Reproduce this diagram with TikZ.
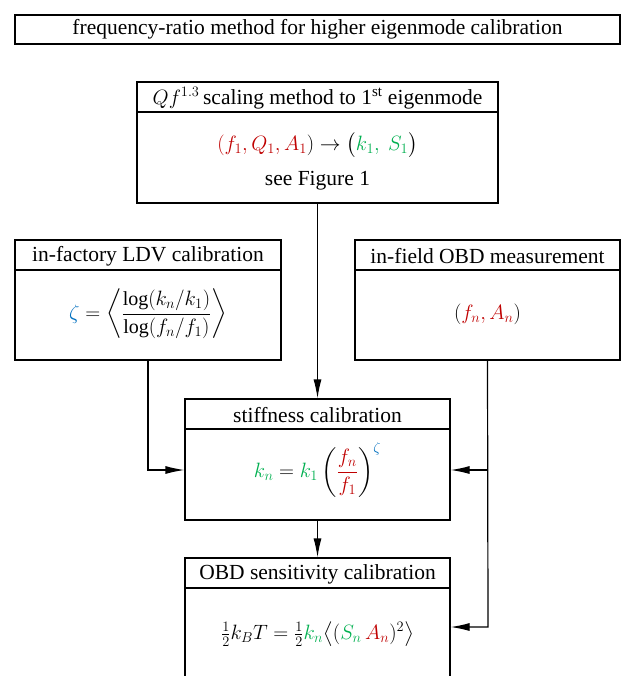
\documentclass[tikz,border=0pt]{standalone}
\usepackage{fontspec}
\usepackage{amsmath}
\setmainfont{Liberation Serif}
\usetikzlibrary{arrows.meta}
\definecolor{cred}{RGB}{192,0,0}
\definecolor{cgreen}{RGB}{0,176,80}
\definecolor{cblue}{RGB}{0,112,192}
\begin{document}
\begin{tikzpicture}[x=1pt,y=-1pt,
  boxst/.style={draw,line width=1.2pt,inner sep=0pt},
  txt/.style={inner sep=0pt,font=\fontsize{21.5}{25}\selectfont},
  mth/.style={inner sep=0pt,font=\fontsize{20}{24}\selectfont},
  conn/.style={line width=1.2pt,-{Latex[length=19pt,width=8pt]}},
  plain/.style={line width=1.2pt}]
\clip (0,0) rectangle (625,676);
\fill[white] (0,0) rectangle (625,676);
% title
\node[boxst,minimum width=605pt,minimum height=29pt] (title) at (317.5,29.5) {};
\node[txt] (titletxt) at (title.center) {frequency-ratio method for higher eigenmode calibration};
% top box
\node[boxst,minimum width=361pt,minimum height=121pt] (top) at (317.5,142.5) {};
\draw[plain] (137,112) -- (498,112);
\node[txt] (toph) at (317.5,98) {$Qf^{1.3}$\,scaling method to 1\textsuperscript{st} eigenmode};
\node[mth] (topf) at (317.5,145) {$\textcolor{cred}{(}\textcolor{cred}{f_1, Q_1, A_1}\textcolor{black}{)} \rightarrow \big(\textcolor{cgreen}{k_1,\ S_1}\big)$};
\node[txt] (topg) at (317.5,181) {see Figure 1};
% left box
\node[boxst,minimum width=266pt,minimum height=120pt] (left) at (148,300) {};
\draw[plain] (15,270) -- (281,270);
\node[txt] (lefth) at (148,256) {in-factory LDV calibration};
\node[mth] (leftf) at (148,314) {$\textcolor{cblue}{\zeta} = \left\langle \dfrac{\log(k_n/k_1)}{\log(f_n/f_1)} \right\rangle$};
% right box
\node[boxst,minimum width=265pt,minimum height=120pt] (right) at (487.5,300) {};
\draw[plain] (355,270) -- (620,270);
\node[txt] (righth) at (487.5,256) {in-field OBD measurement};
\node[mth] (rightf) at (487.5,314) {$(\textcolor{cred}{f_n, A_n})$};
% stiffness box
\node[boxst,minimum width=265pt,minimum height=121pt] (stiff) at (317.5,459.5) {};
\draw[plain] (185,429) -- (450,429);
\node[txt] (stiffh) at (317.5,415) {stiffness calibration};
\node[mth] (stifff) at (317.5,470) {$\textcolor{cgreen}{k_n} = \textcolor{cgreen}{k_1}\left(\textcolor{cred}{\dfrac{f_n}{f_1}}\right)^{\textcolor{cblue}{\zeta}}$};
% OBD box
\node[boxst,minimum width=265pt,minimum height=142pt] (obd) at (317.5,629) {};
\draw[plain] (185,588) -- (450,588);
\node[txt] (obdh) at (317.5,574) {OBD sensitivity calibration};
\node[mth] (obdf) at (317.5,634) {$\tfrac12 k_B T = \tfrac12 \textcolor{cgreen}{k_n}\big\langle(\textcolor{cgreen}{S_n}\,\textcolor{cred}{A_n})^2\big\rangle$};
% connectors
\coordinate (lj) at (148,470);
\coordinate (rj) at (488,470);
\coordinate (rb) at (488,627);
\draw[conn] (top.south) -- (stiff.north);
\draw[conn] (stiff.south) -- (obd.north);
\draw[conn] (left.south) -- (lj) -- (stiff.west |- lj);
\draw[conn] (right.south) -- (rb) -- (obd.east |- rb);
\draw[conn] (rj) -- (stiff.east |- rj);
\end{tikzpicture}
\end{document}
